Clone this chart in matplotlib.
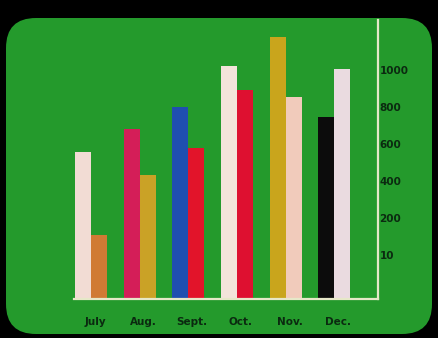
import matplotlib
matplotlib.use("Agg")
import matplotlib.pyplot as plt
import numpy as np
from matplotlib.patches import FancyBboxPatch

# Data (bar heights, baseline = 0)
months = ['July', 'Aug.', 'Sept.', 'Oct.', 'Nov.', 'Dec.']
first_vals = [795, 919, 1038, 1259, 1416, 984]
second_vals = [346, 670, 816, 1130, 1092, 1243]
first_colors = ['#f2dcd4', '#d41e58', '#1f4fb0', '#f3e4da', '#c9a51c', '#0c0c0c']
second_colors = ['#d07a34', '#caa226', '#e2142a', '#de1030', '#f1cbbb', '#eadbe0']
ytick_pos = [240, 440, 640, 840, 1040, 1240]
ytick_labels = ['10', '200', '400', '600', '800', '1000']

fig = plt.figure(figsize=(4.39, 3.38), dpi=100, facecolor='black')

# the CRT screen
bg = fig.add_axes([0, 0, 1, 1])
bg.set_xlim(0, 439)
bg.set_ylim(338, 0)
bg.axis('off')
screen = FancyBboxPatch((36, 48), 366, 256, boxstyle='round,pad=30',
                        facecolor='#249a2c', edgecolor='none')
bg.add_patch(screen)

ax = fig.add_axes([0.1686, 0.1154, 0.6925, 0.8254])
ax.patch.set_alpha(0)

x = np.arange(len(months))
width = 0.33
ax.bar(x - width / 2, first_vals, width, color=first_colors)
ax.bar(x + width / 2, second_vals, width, color=second_colors)

ax.set_xlim(-0.35, 5.9)
ax.set_ylim(0, 1508)

for side in ['left', 'top']:
    ax.spines[side].set_visible(False)
for side in ['right', 'bottom']:
    ax.spines[side].set_color('#e6e8c8')
    ax.spines[side].set_linewidth(1.6)

ax.yaxis.tick_right()
ax.set_yticks(ytick_pos)
ax.set_yticklabels(ytick_labels)
ax.set_xticks(x + 0.08)
ax.set_xticklabels(months)
ax.tick_params(axis='both', length=0, labelsize=7.5, labelcolor='#0b2a10')
ax.tick_params(axis='x', pad=13)
ax.tick_params(axis='y', pad=1)
for lbl in ax.get_xticklabels() + ax.get_yticklabels():
    lbl.set_fontweight('semibold')

fig.savefig('out.png', dpi=100, facecolor='black')
